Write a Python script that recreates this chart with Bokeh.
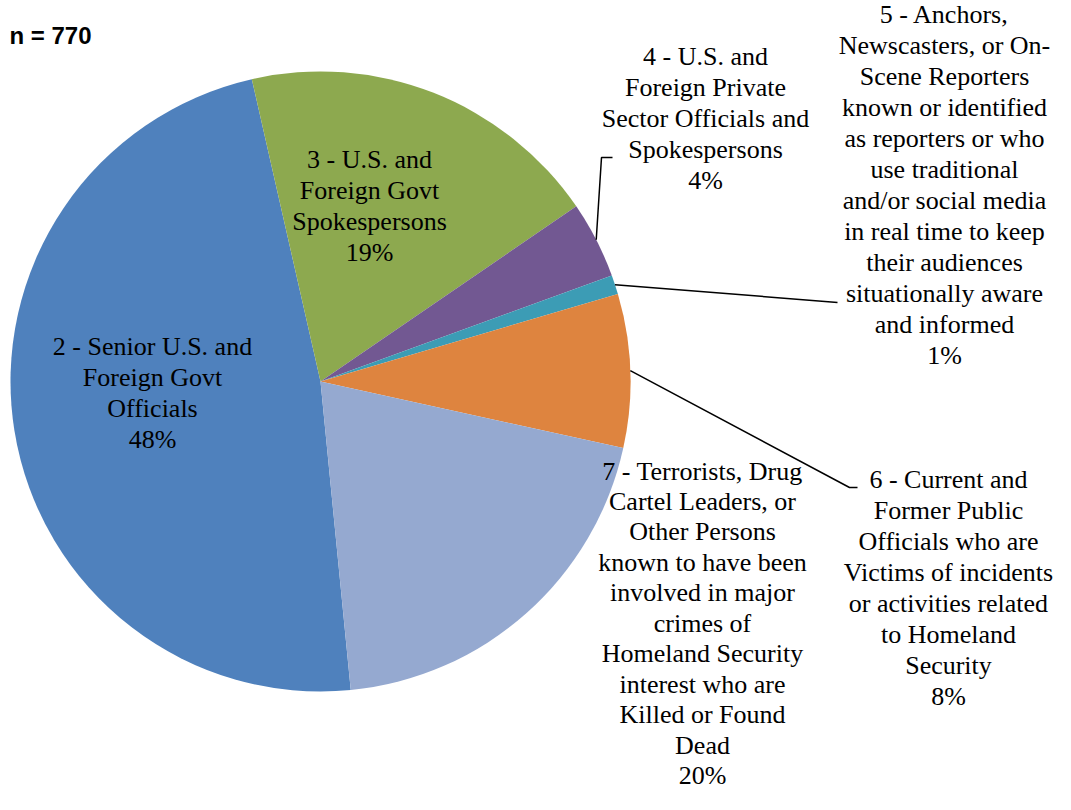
import math
from bokeh.plotting import figure
from bokeh.models import Range1d, ColumnDataSource
from bokeh.core.properties import value
from bokeh.embed import file_html
from bokeh.resources import INLINE

# ---- data ----
categories = [
    "2 - Senior U.S. and\nForeign Govt\nOfficials",
    "3 - U.S. and\nForeign Govt\nSpokespersons",
    "4 - U.S. and\nForeign Private\nSector Officials and\nSpokespersons",
    "5 - Anchors,\nNewscasters, or On-\nScene Reporters\nknown or identified\nas reporters or who\nuse traditional\nand/or social media\nin real time to keep\ntheir audiences\nsituationally aware\nand informed",
    "6 - Current and\nFormer Public\nOfficials who are\nVictims of incidents\nor activities related\nto Homeland\nSecurity",
    "7 - Terrorists, Drug\nCartel Leaders, or\nOther Persons\nknown to have been\ninvolved in major\ncrimes of\nHomeland Security\ninterest who are\nKilled or Found\nDead",
]
percents = [48, 19, 4, 1, 8, 20]
n_label = "n = 770"

# ---- style ----
colors = ["#4F81BD", "#8DA94F", "#725892", "#3C9CB5", "#DE843F", "#95A9D0"]
first_slice_angle = 174.4  # degrees clockwise from 12 o'clock

W, H = 1055, 794
OFF = 1
def fx(x):
    return x - OFF
def fy(y):
    return (H + OFF) - y

cx, cy, R = 321, 382, 310

p = figure(width=W, height=H, output_backend="svg", toolbar_location=None,
           x_range=Range1d(0, W), y_range=Range1d(0, H), min_border=0)
p.axis.visible = False
p.grid.visible = False
p.outline_line_color = None
p.background_fill_color = "white"
p.border_fill_color = "white"

total = sum(percents)
starts, ends, mids = [], [], []
acc = first_slice_angle
for v in percents:
    a0 = acc
    a1 = acc + 360.0 * v / total
    starts.append(math.radians(90 - a0))
    ends.append(math.radians(90 - a1))
    mids.append((a0 + a1) / 2)
    acc = a1

src = ColumnDataSource(dict(start=starts, end=ends, color=colors))
p.wedge(x=fx(cx), y=fy(cy), radius=R, start_angle="start", end_angle="end",
        direction="clock", fill_color="color", line_color=None, source=src)

def edge_point(theta_deg):
    t = math.radians(theta_deg)
    return cx + R * math.sin(t), cy - R * math.cos(t)

# leader lines (slices 4, 5, 6)
elbows = {2: [(602, 158), (613, 158)], 3: [(838, 303)], 4: [(850, 488), (858, 488)]}
for i, pts in elbows.items():
    sx, sy = edge_point(mids[i])
    xs = [fx(sx)] + [fx(x) for x, _ in pts]
    ys = [fy(sy)] + [fy(y) for _, y in pts]
    p.line(xs, ys, line_color="black", line_width=1.5)

# labels: (center x, center y of first line, line height factor)
label_pos = [(153, 347, 1.07), (370, 160, 1.07), (706, 57, 1.07),
             (945, 15, 1.07), (949, 480, 1.07), (703, 472, 1.05)]
FS = 26
for cat, pct, (x, y, lh) in zip(categories, percents, label_pos):
    p.text(x=[fx(x)], y=[fy(y - 15)], text=[cat + "\n" + f"{pct}%"],
           text_font=value("Liberation Serif"),
           text_font_size=f"{FS}px", text_align="center", text_baseline="top",
           text_line_height=lh, text_color="black")

p.text(x=[fx(10)], y=[fy(36)], text=[n_label], text_font=value("Liberation Sans"),
       text_font_size="24px", text_font_style="bold", text_align="left",
       text_baseline="middle", text_color="black")

open("out.html", "w").write(file_html(p, INLINE))
